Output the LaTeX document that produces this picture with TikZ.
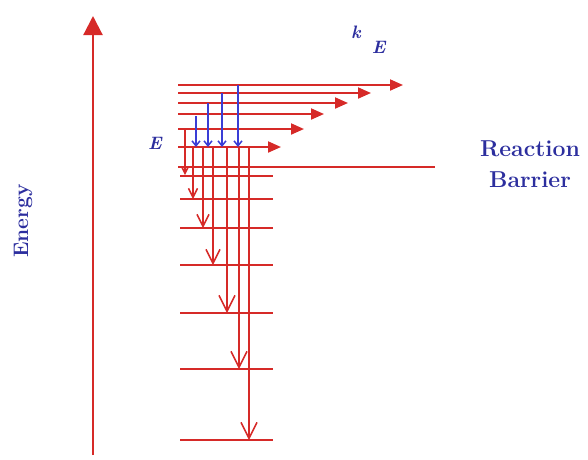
\documentclass[tikz,border=0pt]{standalone}
\usetikzlibrary{arrows.meta}
\definecolor{lvlred}{RGB}{214,42,40}
\definecolor{txtblue}{RGB}{44,46,158}
\definecolor{arrblue}{RGB}{58,62,214}
\tikzset{
  lvl/.style  ={draw=lvlred, line width=2pt},
  rarr/.style ={draw=lvlred, line width=2pt,
                -{Triangle[length=13pt, width=11pt]}},
  darr/.style ={draw=lvlred, line width=1.5pt,
                -{Straight Barb[length=#1, width=#1]}},
  barr/.style ={draw=arrblue, line width=1.5pt,
                -{Straight Barb[length=5pt, width=8pt]}},
  lbl/.style  ={text=txtblue, inner sep=0pt},
}
\begin{document}
\begin{tikzpicture}[x=1pt, y=-1pt]
  \useasboundingbox (0,0) rectangle (588,459);
  % energy axis
  \draw[draw=lvlred, line width=2.2pt, -{Triangle[length=19pt, width=19pt]}]
    (93,455) -- (93,16);
  \node[lbl, rotate=90, font=\bfseries\fontsize{21}{24}\selectfont]
    (energy) at (23,221) {Energy};
  % levels below E and the barrier
  \foreach \y in {176, 199, 228, 265, 313, 369, 440}
    \draw[lvl] (180,\y) -- (273,\y);
  \draw[lvl, line width=2.4pt] (178,167) -- (435,167);
  % levels above the barrier, leaking out with k_E
  \foreach \y/\xe in {85/403, 93/371, 103/348, 114/324, 129/304, 147/281}
    \draw[rarr] (178,\y) -- (\xe,\y);
  % collisional steps down
  \foreach \x/\ya/\yb/\s in {185/129/175/6pt, 193/147/199/9pt,
      203/147/228/12pt, 213/147/265/14pt, 227/147/313/16pt,
      239/147/369/16pt, 249/147/440/16pt}
    \draw[darr=\s] (\x,\ya) -- (\x,\yb);
  % steps down to E
  \foreach \x/\ya in {196/116, 208/103, 222/93, 238/85}
    \draw[barr] (\x,\ya) -- (\x,147);
  \node[lbl, font=\bfseries\itshape\fontsize{18}{20}\selectfont]
    (elbl) at (155,143) {E};
  \node[lbl, anchor=base west, font=\bfseries\itshape\fontsize{18}{20}\selectfont]
    (klbl) at (351,38) {k\hspace{11pt}\raisebox{-15pt}{E}};
  \node[lbl, align=center, font=\bfseries\fontsize{23}{31}\selectfont]
    (barrier) at (530,164) {Reaction\\Barrier};
\end{tikzpicture}
\end{document}
